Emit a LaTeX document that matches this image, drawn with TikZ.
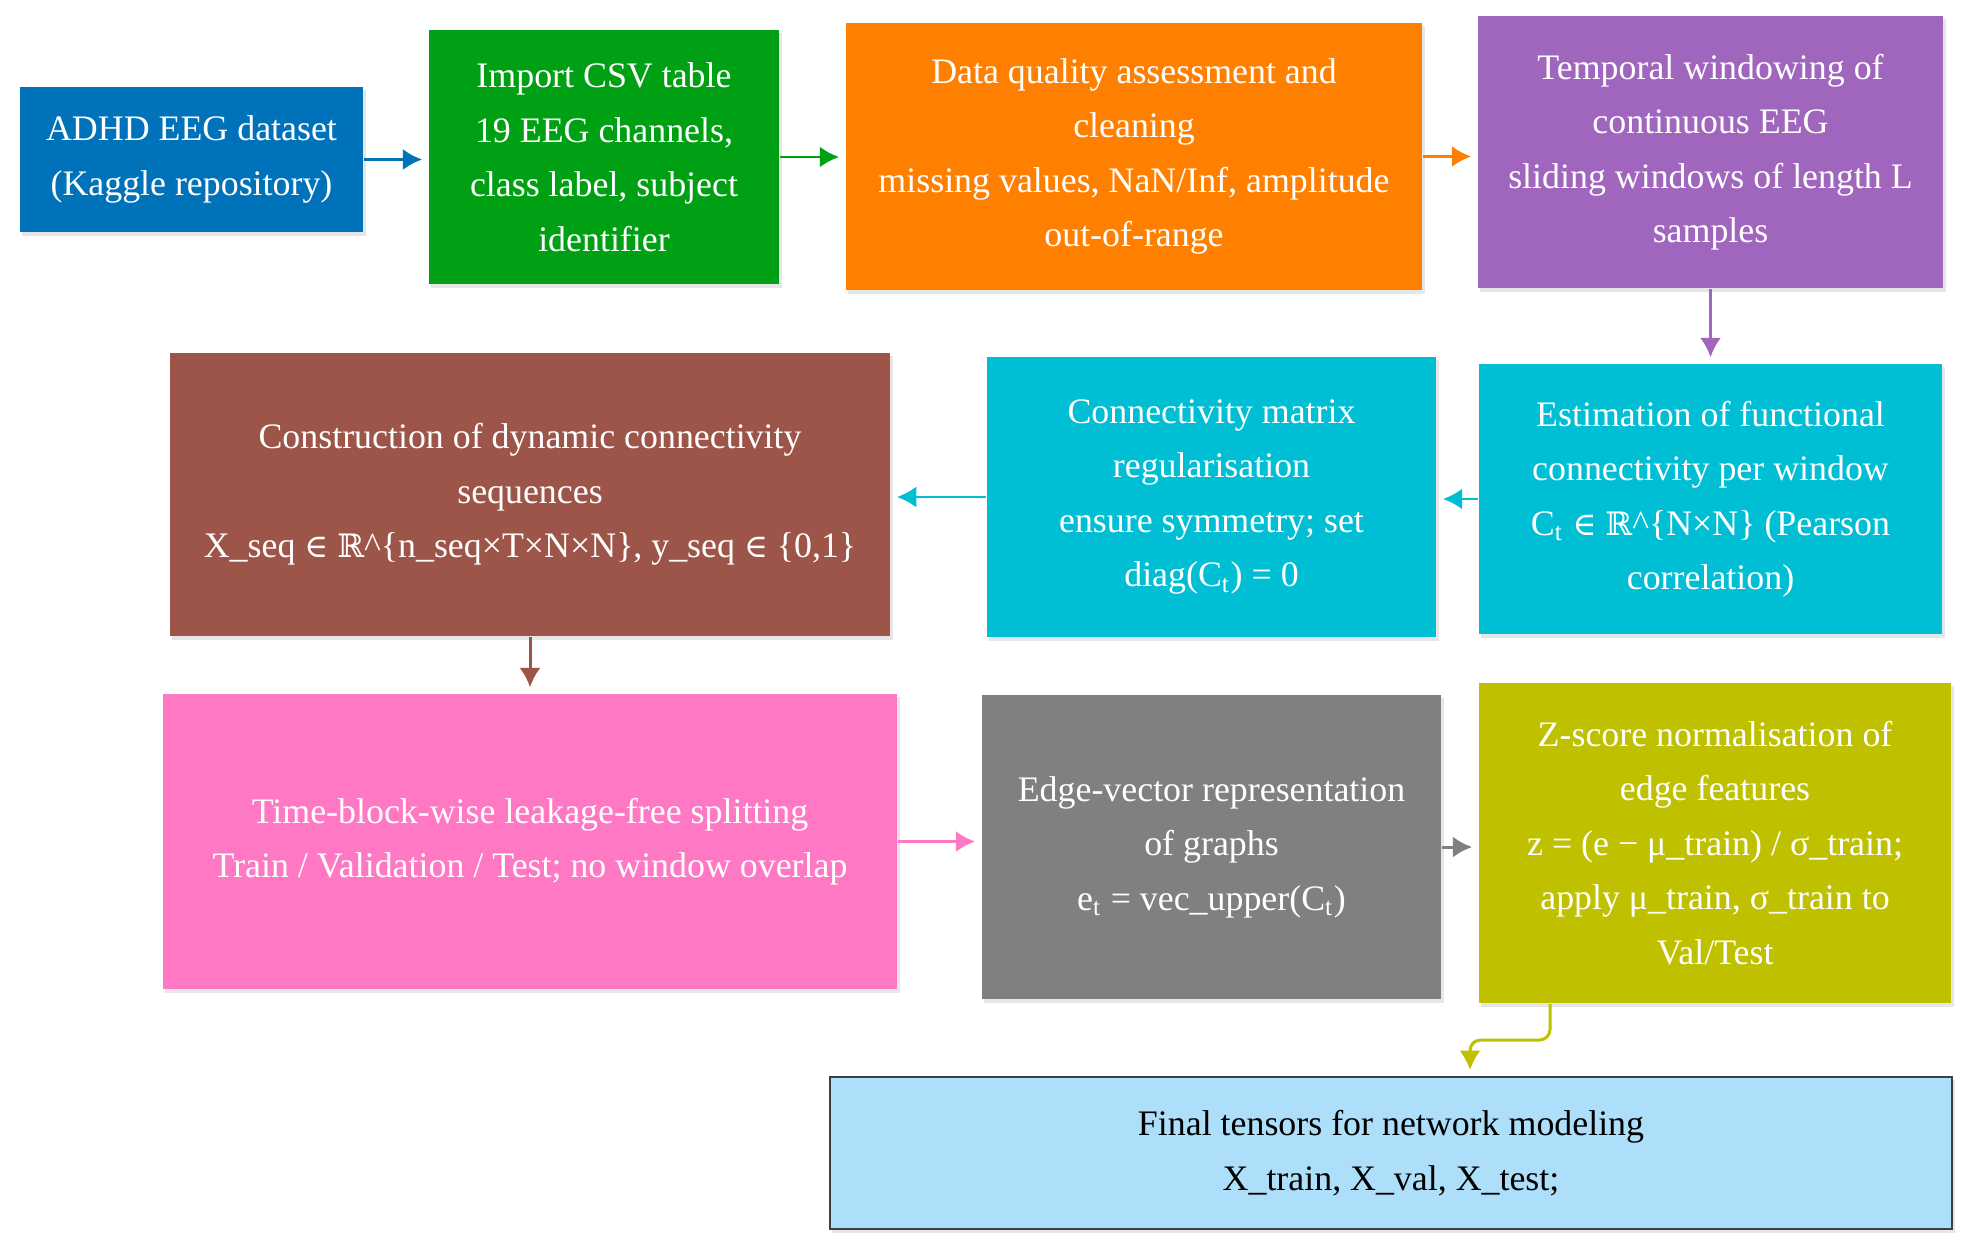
\documentclass[tikz,border=0pt]{standalone}
\usepackage{fontspec}
\setmainfont{Liberation Serif}
\newfontfamily\symfont[Scale=0.9]{DejaVu Serif}
\usetikzlibrary{arrows.meta,shadows}

\definecolor{adhdblue}{RGB}{0,114,185}
\definecolor{csvgreen}{RGB}{0,160,20}
\definecolor{qorange}{RGB}{255,128,0}
\definecolor{wpurple}{RGB}{160,102,190}
\definecolor{fccyan}{RGB}{0,190,212}
\definecolor{seqbrown}{RGB}{156,85,72}
\definecolor{splitpink}{RGB}{255,120,196}
\definecolor{edgegray}{RGB}{128,128,128}
\definecolor{zolive}{RGB}{190,192,0}
\definecolor{finalblue}{RGB}{173,222,250}
\definecolor{finalline}{RGB}{60,64,70}

\newcommand{\elem}{{\symfont ∈}}
\newcommand{\reals}{{\symfont ℝ}}

\begin{document}
\begin{tikzpicture}[x=0.01cm,y=-0.01cm,
  stage/.style={rectangle,text=white,align=center,inner sep=0pt,
    font=\fontsize{10.2pt}{15.5pt}\selectfont,
    drop shadow={shadow xshift=0.7pt,shadow yshift=-1pt,opacity=0.2}},
  flow/.style={-{Latex[length=5.5pt,width=6pt]},line width=0.85pt,shorten >=0.06cm}]
  \useasboundingbox (0,0) rectangle (1977,1255);

  % first row
  \node[stage,fill=adhdblue,minimum width=3.43cm,minimum height=1.45cm] (adhd) at (191.5,159.5)
       {ADHD EEG dataset\\(Kaggle repository)};
  \node[stage,fill=csvgreen,minimum width=3.50cm,minimum height=2.54cm] (csv) at (604,157)
       {Import CSV table\\19 EEG channels,\\class label, subject\\identifier};
  \node[stage,fill=qorange,minimum width=5.76cm,minimum height=2.67cm] (quality) at (1134,156.5)
       {Data quality assessment and\\cleaning\\missing values, NaN/Inf, amplitude\\out-of-range};
  \node[stage,fill=wpurple,minimum width=4.65cm,minimum height=2.72cm] (windows) at (1710.5,152)
       {Temporal windowing of\\continuous EEG\\sliding windows of length L\\samples};

  % second row
  \node[stage,fill=fccyan,minimum width=4.63cm,minimum height=2.70cm] (corr) at (1710.5,499)
       {Estimation of functional\\connectivity per window\\C\textsubscript{t} \elem{} \reals\textasciicircum\{N×N\} (Pearson\\correlation)};
  \node[stage,fill=fccyan,minimum width=4.49cm,minimum height=2.80cm] (regul) at (1211.5,497)
       {Connectivity matrix\\regularisation\\ensure symmetry; set\\diag(C\textsubscript{t}) = 0};
  \node[stage,fill=seqbrown,minimum width=7.20cm,minimum height=2.83cm] (seq) at (530,494.5)
       {Construction of dynamic connectivity\\sequences\\X\_seq \elem{} \reals\textasciicircum\{n\_seq×T×N×N\}, y\_seq \elem{} \{0,1\}};

  % third row
  \node[stage,fill=splitpink,minimum width=7.34cm,minimum height=2.95cm] (split) at (530,841.5)
       {Time-block-wise leakage-free splitting\\Train / Validation / Test; no window overlap};
  \node[stage,fill=edgegray,minimum width=4.59cm,minimum height=3.04cm] (edge) at (1211.5,847)
       {Edge-vector representation\\of graphs\\e\textsubscript{t} = vec\_upper(C\textsubscript{t})};
  \node[stage,fill=zolive,minimum width=4.72cm,minimum height=3.20cm] (zscore) at (1715,843)
       {Z-score normalisation of\\edge features\\z = (e − μ\_train) / σ\_train;\\apply μ\_train, σ\_train to\\Val/Test};

  \node[stage,fill=finalblue,draw=finalline,line width=0.6pt,text=black,
        minimum width=11.22cm,minimum height=1.52cm] (final) at (1391,1153)
       {Final tensors for network modeling\\X\_train, X\_val, X\_test;};

  \draw[flow,adhdblue] (adhd.east) -- (adhd.east -| csv.west);
  \draw[flow,csvgreen] (csv.east) -- (csv.east -| quality.west);
  \draw[flow,qorange] (quality.east) -- (quality.east -| windows.west);
  \draw[flow,wpurple] (windows.south) -- (corr.north);
  \draw[flow,fccyan] (corr.west) -- (corr.west -| regul.east);
  \draw[flow,fccyan] (regul.west) -- (regul.west -| seq.east);
  \draw[flow,seqbrown] (seq.south) -- (split.north);
  \draw[flow,splitpink] (split.east) -- (split.east -| edge.west);
  \draw[flow,edgegray] (edge.east) -- (edge.east -| zscore.west);

  \coordinate (zdrop) at (1550,1040);
  \coordinate (zturn) at (1470,1040);
  \draw[flow,zolive,rounded corners=3pt] (zscore.south -| zdrop) -- (zdrop) -- (zturn) -- (zturn |- final.north);
\end{tikzpicture}
\end{document}
